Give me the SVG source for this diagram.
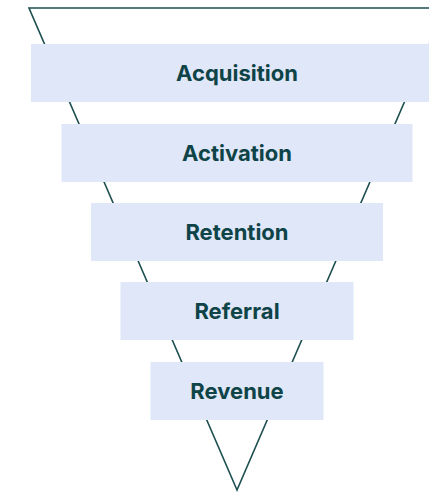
<svg xmlns="http://www.w3.org/2000/svg" width="429" height="497" viewBox="0 0 429 497">
  <style>
    .stage rect { fill: #dfe7f8; }
    .stage text { font-family: Inter, "Liberation Sans", sans-serif; font-weight: 700; font-size: 22px; fill: #0e4347; text-anchor: middle; }
    .funnel { fill: none; stroke: #1d4f50; stroke-width: 1.6; stroke-linejoin: miter; }
  </style>
  <rect width="429" height="497" fill="#ffffff"/>
  <g id="connectors">
    <!-- funnel outline, symmetric about x = 237 -->
    <polygon class="funnel" points="29,8 445,8 237,490"/>
  </g>
  <g id="acquisition" class="stage">
    <rect x="31" y="44" width="412" height="58"/>
    <text x="237" y="81">Acquisition</text>
  </g>
  <g id="activation" class="stage">
    <rect x="61.5" y="124" width="351" height="58"/>
    <text x="237" y="160.5">Activation</text>
  </g>
  <g id="retention" class="stage">
    <rect x="91" y="203" width="292" height="58"/>
    <text x="237" y="239.5">Retention</text>
  </g>
  <g id="referral" class="stage">
    <rect x="120.5" y="282" width="233" height="58"/>
    <text x="237" y="318.5">Referral</text>
  </g>
  <g id="revenue" class="stage">
    <rect x="150.5" y="362" width="173" height="58"/>
    <text x="237" y="398.5">Revenue</text>
  </g>
</svg>
